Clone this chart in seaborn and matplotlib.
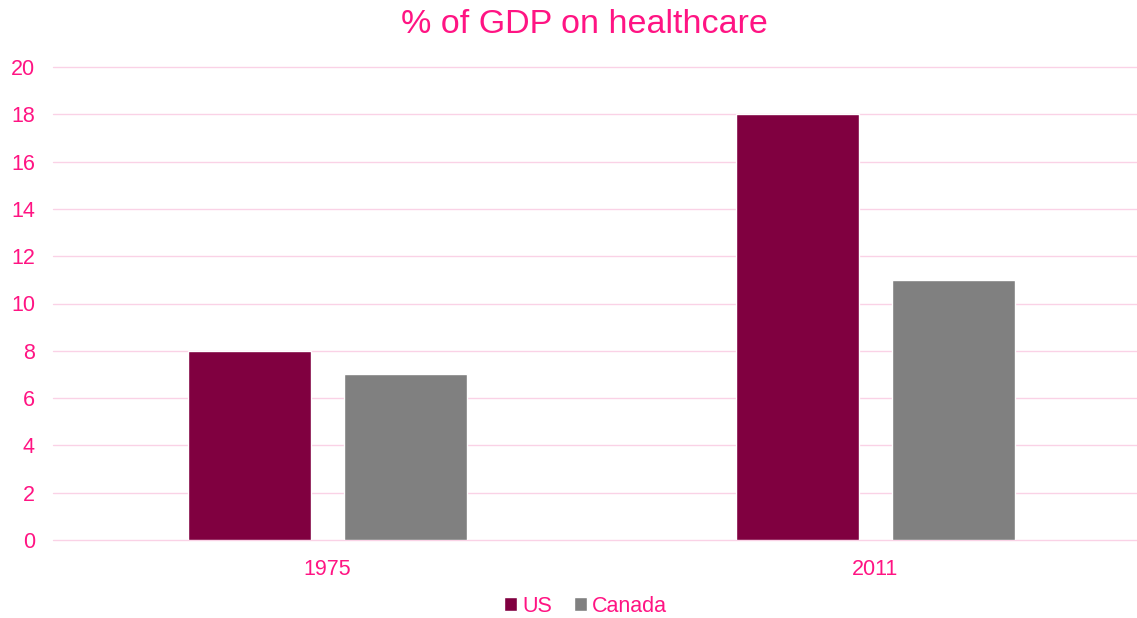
import matplotlib
matplotlib.use("Agg")
import matplotlib.pyplot as plt
import seaborn as sns
import pandas as pd
from matplotlib.patches import Patch

# Healthcare spending as a share of GDP
years = ["1975", "2011"]
countries = ["US", "Canada"]
us_values = [8, 18]
canada_values = [7, 11]
y_ticks = [0, 2, 4, 6, 8, 10, 12, 14, 16, 18, 20]

df = pd.DataFrame({
    "Year": years * 2,
    "Country": [countries[0]] * len(years) + [countries[1]] * len(years),
    "Value": us_values + canada_values,
})

PINK = "#FF1483"
GRID = "#FAD2E6"
palette = {"US": "#800040", "Canada": "#808080"}

sns.set_theme(style="white")
plt.rcParams["font.family"] = ["Liberation Sans", "DejaVu Sans"]

fig = plt.figure(figsize=(11.37, 6.18), dpi=100)
ax = fig.add_axes([53 / 1137, 1 - 540 / 618, 1 - 53 / 1137, (540 - 67) / 618])

sns.barplot(data=df, x="Year", y="Value", hue="Country", order=years,
            hue_order=countries, palette=palette, width=0.569, gap=0.211,
            saturation=1, legend=False, ax=ax, zorder=3)

ax.set_xlim(-0.5, 1.477)
ax.set_ylim(0, 20)
ax.set_yticks(y_ticks)
ax.set_yticklabels([str(t) for t in y_ticks])
ax.grid(axis="y", color=GRID, linewidth=1, zorder=0)
for line in ax.get_ygridlines():
    line.set_clip_on(False)
for s in ax.spines.values():
    s.set_visible(False)
ax.tick_params(axis="both", length=0, colors=PINK, labelsize=15.5)
ax.tick_params(axis="y", pad=13)
ax.tick_params(axis="x", pad=14)
ax.set_xlabel("")
ax.set_ylabel("")

fig.suptitle("% of GDP on healthcare", color=PINK, fontsize=24.5,
             x=0.514, y=0.96, va="center")

handles = [Patch(facecolor=palette[c], label=c) for c in countries]
fig.legend(handles=handles, loc="center", ncol=2, frameon=False,
           bbox_to_anchor=(0.515, 1 - 606 / 618), fontsize=15.5, labelcolor=PINK,
           handlelength=0.6, handleheight=0.6, handletextpad=0.25,
           columnspacing=1.0)

fig.savefig("out.png", dpi=100, facecolor="white")
